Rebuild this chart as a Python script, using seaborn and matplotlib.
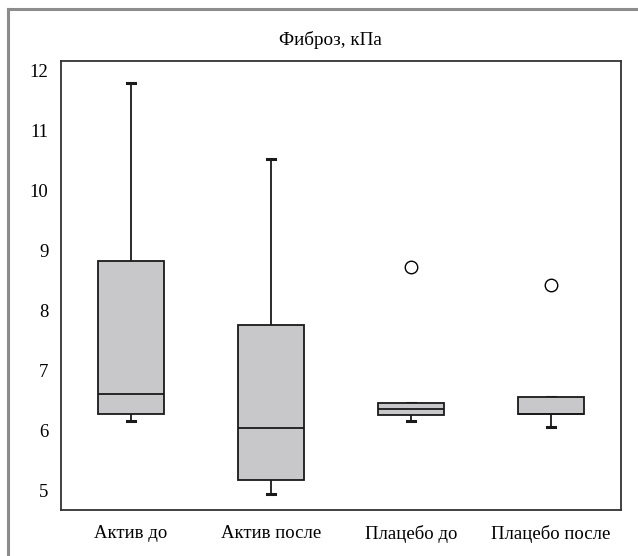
import numpy as np
import pandas as pd
import seaborn as sns
import matplotlib
matplotlib.use("Agg")
import matplotlib.pyplot as plt
from matplotlib.lines import Line2D

plt.rcParams['font.family'] = ['Liberation Serif', 'DejaVu Serif']

categories = ["Актив до", "Актив после", "Плацебо до", "Плацебо после"]
aktiv_do = [6.15, 6.27, 6.60, 8.81, 11.78]
aktiv_posle = [4.93, 5.17, 6.03, 7.75, 10.52]
placebo_do = [6.15, 6.25, 6.35, 6.45, 8.72]
placebo_posle = [6.06, 6.27, 6.27, 6.56, 8.42]
yticks = [5, 6, 7, 8, 9, 10, 11, 12]
title = "Фиброз, кПа"

groups = [aktiv_do, aktiv_posle, placebo_do, placebo_posle]
df = pd.DataFrame({
    "group": np.repeat(categories, [len(g) for g in groups]),
    "value": np.concatenate(groups),
})

W, H = 638, 556
fig = plt.figure(figsize=(W / 100, H / 100), dpi=100)
ax = fig.add_axes([61 / W, 1 - 510 / H, 560 / W, 449 / H])

sns.boxplot(
    data=df, x="group", y="value", order=categories, ax=ax,
    color="#c8c8ca", saturation=1, width=0.47,
    linecolor="#1a1a1a", linewidth=1.3, fliersize=9,
    flierprops=dict(marker="o", markerfacecolor="white",
                    markeredgecolor="black", markeredgewidth=1.0),
    capprops=dict(linewidth=2.2, zorder=1.5),
    capwidths=0.06,
)

ax.set_xlim(-0.5, 3.5)
ax.set_ylim(4.67, 12.15)
ax.set_yticks(yticks)
ax.set_yticklabels([str(t) for t in yticks])
ax.set_xlabel("")
ax.set_ylabel("")
ax.tick_params(axis="both", length=0, colors="black")
ax.tick_params(axis="y", pad=9, labelsize=13.5)
ax.tick_params(axis="x", pad=11, labelsize=13.5)
for s in ax.spines.values():
    s.set_color("#333333")
    s.set_linewidth(1.3)

fig.text(330 / W, 1 - 45 / H, title, ha="center", va="baseline",
         fontsize=13.8, color="black")

# outer frame (left and top only visible)
fig.add_artist(Line2D([7.5 / W, 7.5 / W], [0, 1 - 9 / H],
                      transform=fig.transFigure, color="#8c8c8c", lw=2.2))
fig.add_artist(Line2D([7.5 / W, 1], [1 - 9 / H, 1 - 9 / H],
                      transform=fig.transFigure, color="#8c8c8c", lw=2.2))

fig.savefig("out.png", dpi=100)
